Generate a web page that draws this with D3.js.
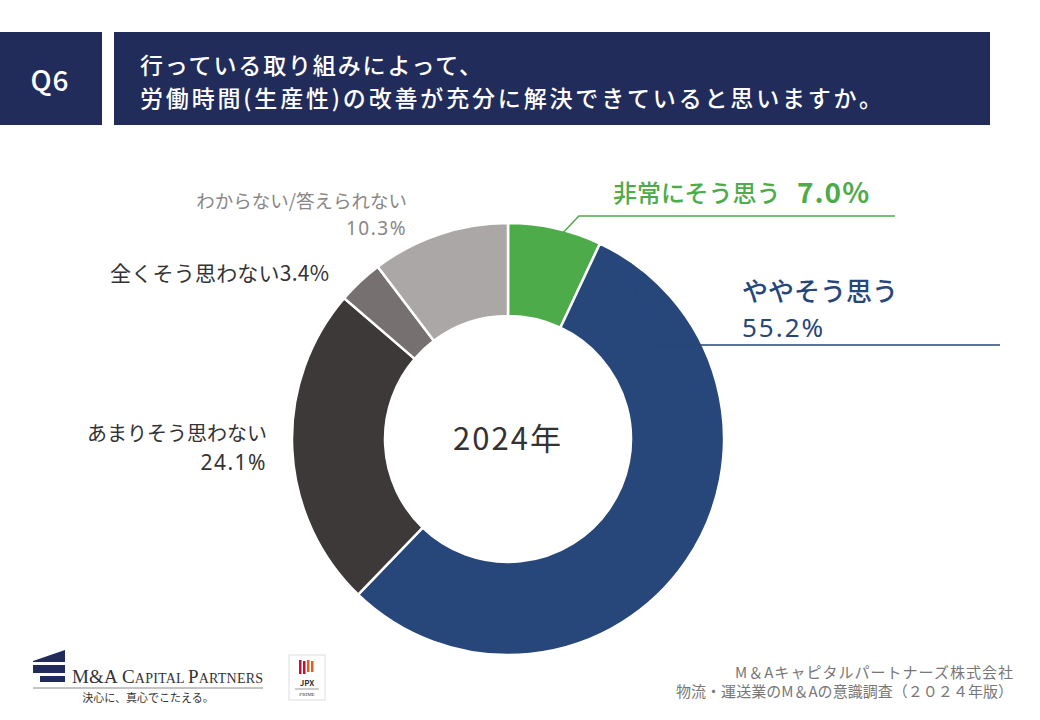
<!DOCTYPE html>
<html>
<head>
<meta charset="utf-8">
<script src="https://cdn.jsdelivr.net/npm/d3@7"></script>
<style>
  body { margin: 0; background: #fff; }
  svg { display: block; font-family: "Noto Sans CJK JP", "Noto Sans", sans-serif; }
  .num { font-family: "Noto Sans", sans-serif; }
</style>
</head>
<body>
<script>
// answers, clockwise from 12 o'clock
var categories = ["非常にそう思う", "ややそう思う", "あまりそう思わない", "全くそう思わない", "わからない/答えられない"];
var values = [7.0, 55.2, 24.1, 3.4, 10.3];
var colors = ["#4eab4a", "#27467a", "#3c3938", "#767170", "#aba7a6"];
var yearLabel = "2024年";

var w = 1040, h = 720;
var cx = 508, cy = 439;
var outerR = 216, innerR = 123;

var svg = d3.select("body").append("svg")
    .attr("width", w)
    .attr("height", h);

// header
svg.append("rect").attr("x", 0).attr("y", 32).attr("width", 102).attr("height", 93).attr("fill", "#212c5b");
svg.append("rect").attr("x", 114).attr("y", 32).attr("width", 876).attr("height", 93).attr("fill", "#212c5b");
svg.append("text").attr("x", 50).attr("y", 91).attr("text-anchor", "middle")
    .attr("fill", "#fff").attr("font-size", 28).attr("font-weight", 500).attr("letter-spacing", 1).text("Q6");
svg.append("text").attr("x", 140).attr("y", 74).attr("fill", "#fff")
    .attr("font-size", 23).attr("font-weight", 500).attr("textLength", 342)
    .text("行っている取り組みによって、");
svg.append("text").attr("x", 140).attr("y", 107).attr("fill", "#fff")
    .attr("font-size", 23).attr("font-weight", 500).attr("textLength", 742)
    .text("労働時間(生産性)の改善が充分に解決できていると思いますか。");

// donut
var pie = d3.pie().sort(null).value(function(d){ return d; });
var arc = d3.arc().innerRadius(innerR).outerRadius(outerR);
var arcs = pie(values);

var g = svg.append("g").attr("transform", "translate(" + cx + "," + cy + ")");
g.selectAll("path")
    .data(arcs)
    .enter()
    .append("path")
    .attr("d", arc)
    .attr("fill", function(d, i){ return colors[i]; })
    .attr("stroke", "#fff")
    .attr("stroke-width", 2.5);

g.append("text").attr("x", 0).attr("y", 11).attr("text-anchor", "middle")
    .attr("fill", "#333").attr("font-size", 31).attr("letter-spacing", 2).text(yearLabel);

// leader lines start on the slice
function pointAt(angle, r){
    var a = angle - Math.PI / 2;
    return [cx + r * Math.cos(a), cy + r * Math.sin(a)];
}

var p0 = pointAt((arcs[0].startAngle + arcs[0].endAngle) / 2 + 0.02, 206);
svg.append("polyline")
    .attr("points", [p0, [p0[0] + 22, 216], [895, 216]].map(String).join(" "))
    .attr("fill", "none").attr("stroke", colors[0]).attr("stroke-width", 1.5);

var p1 = pointAt(arcs[1].startAngle + 0.18, 210);
svg.append("polyline")
    .attr("points", [p1, [p1[0] + 20, 345], [1000, 345]].map(String).join(" "))
    .attr("fill", "none").attr("stroke", colors[1]).attr("stroke-width", 1.5);

// labels
svg.append("text").attr("x", 613).attr("y", 202).attr("fill", colors[0])
    .attr("font-size", 24).attr("font-weight", 500).text(categories[0]);
svg.append("text").attr("x", 797).attr("y", 203).attr("fill", colors[0])
    .attr("font-size", 28).attr("font-weight", 700).attr("letter-spacing", 1).text(values[0].toFixed(1) + "%");

svg.append("text").attr("x", 742).attr("y", 301).attr("fill", colors[1])
    .attr("font-size", 26).attr("font-weight", 500).text(categories[1]);
svg.append("text").attr("class", "num").attr("x", 742).attr("y", 337).attr("fill", colors[1])
    .attr("font-size", 26).attr("letter-spacing", 2).text(values[1].toFixed(1) + "%");

svg.append("text").attr("x", 267).attr("y", 441).attr("text-anchor", "end")
    .attr("fill", "#333").attr("font-size", 20).text(categories[2]);
svg.append("text").attr("class", "num").attr("x", 267).attr("y", 470).attr("text-anchor", "end")
    .attr("fill", "#333").attr("font-size", 21).attr("letter-spacing", 1.5).text(values[2].toFixed(1) + "%");

svg.append("text").attr("x", 329).attr("y", 281).attr("text-anchor", "end")
    .attr("fill", "#333").attr("font-size", 21).attr("textLength", 219)
    .text(categories[3] + values[3].toFixed(1) + "%");

svg.append("text").attr("x", 407).attr("y", 208).attr("text-anchor", "end")
    .attr("fill", "#8a8685").attr("font-size", 18.5).text(categories[4]);
svg.append("text").attr("class", "num").attr("x", 407).attr("y", 235).attr("text-anchor", "end")
    .attr("fill", "#8a8685").attr("font-size", 19).attr("letter-spacing", 1.5).text(values[4].toFixed(1) + "%");

// logo
var logo = svg.append("g");
logo.append("path").attr("d", "M33,661 L65,650 L65,662 L33,662 Z").attr("fill", "#212c5b");
logo.append("rect").attr("x", 33).attr("y", 665).attr("width", 32).attr("height", 8).attr("fill", "#212c5b");
logo.append("rect").attr("x", 40).attr("y", 676).attr("width", 25).attr("height", 6).attr("fill", "#212c5b");
var lt = logo.append("text").attr("x", 72).attr("y", 683).attr("fill", "#333")
    .attr("font-family", "Liberation Serif, serif").attr("font-size", 19).attr("textLength", 191);
[["M&A C", 19], ["APITAL ", 14], ["P", 19], ["ARTNERS", 14]].forEach(function(p){
    lt.append("tspan").attr("font-size", p[1]).text(p[0]);
});
logo.append("line").attr("x1", 33).attr("x2", 263).attr("y1", 688).attr("y2", 688)
    .attr("stroke", "#888").attr("stroke-width", 1);
logo.append("text").attr("x", 148).attr("y", 702).attr("text-anchor", "middle")
    .attr("fill", "#333").attr("font-size", 11).text("決心に、真心でこたえる。");

var jpx = svg.append("g");
jpx.append("rect").attr("x", 289).attr("y", 655).attr("width", 36).attr("height", 45)
    .attr("fill", "#fff").attr("stroke", "#ddd");
[0, 1, 2, 3].forEach(function(k){
    jpx.append("rect").attr("x", 299 + k * 4).attr("y", 660 + (k % 2)).attr("width", 2.5).attr("height", 14 - k)
        .attr("fill", k < 2 ? "#c8102e" : "#e06020");
});
jpx.append("text").attr("x", 307).attr("y", 686).attr("text-anchor", "middle")
    .attr("font-size", 8).attr("font-weight", 700).attr("fill", "#333").text("JPX");
jpx.append("line").attr("x1", 295).attr("x2", 319).attr("y1", 689).attr("y2", 689).attr("stroke", "#999");
jpx.append("text").attr("x", 307).attr("y", 696).attr("text-anchor", "middle")
    .attr("font-family", "Liberation Serif, serif").attr("font-size", 5).attr("fill", "#333").text("PRIME");

// source
svg.append("text").attr("x", 1013).attr("y", 678).attr("text-anchor", "end")
    .attr("fill", "#777").attr("font-size", 15).attr("textLength", 278).text("M＆Aキャピタルパートナーズ株式会社");
svg.append("text").attr("x", 1013).attr("y", 697).attr("text-anchor", "end")
    .attr("fill", "#777").attr("font-size", 15).attr("textLength", 337).text("物流・運送業のM＆Aの意識調査（２０２４年版）");
</script>
</body>
</html>
